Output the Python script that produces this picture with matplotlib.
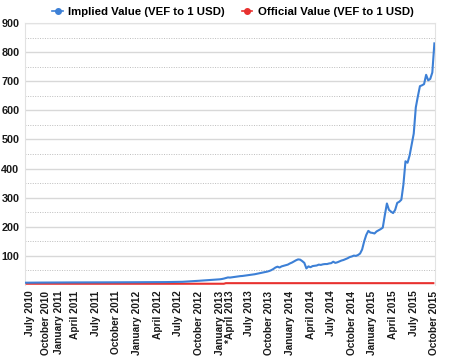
import matplotlib
matplotlib.use("Agg")
import matplotlib.pyplot as plt
from matplotlib.lines import Line2D
from matplotlib.ticker import MultipleLocator, FixedLocator, NullFormatter

plt.rcParams['font.family'] = ['Liberation Sans', 'DejaVu Sans']

# Quarter tick labels (first entry: lead-in samples before July 2010)
quarter_labels = ["", "July 2010", "October 2010", "January 2011", "April 2011",
                  "July 2011", "October 2011", "January 2012", "April 2012",
                  "July 2012", "October 2012", "January 2013", "*April 2013",
                  "July 2013", "October 2013", "January 2014", "April 2014",
                  "July 2014", "October 2014", "January 2015", "April 2015",
                  "July 2015", "October 2015"]

# Implied rate samples, grouped by the quarter they fall in
implied = [
    [7.9, 8.0],
    [8.0, 8.1, 8.1, 8.2, 8.2, 8.3, 8.3, 8.4],
    [8.4, 8.4, 8.5, 8.5, 8.5, 8.6],
    [8.6, 8.6, 8.7, 8.7, 8.7, 8.8, 8.8, 8.8],
    [8.8, 8.8, 8.9, 8.9, 8.9, 8.9, 9.0, 9.0, 9.0, 9.0],
    [9.0, 9.0, 9.1, 9.1, 9.1, 9.1, 9.2, 9.2, 9.2, 9.2],
    [9.2, 9.3, 9.3, 9.3, 9.4, 9.4, 9.4, 9.5, 9.5, 9.5],
    [9.5, 9.6, 9.6, 9.6, 9.7, 9.7, 9.7, 9.8, 9.8, 9.8],
    [9.8, 9.9, 9.9, 10.0, 10.0, 10.1, 10.2, 10.3, 10.4, 10.5],
    [10.5, 10.8, 11.0, 11.4, 11.8, 12.2, 12.6, 13.0, 13.5, 14.0],
    [14.5, 15.0, 15.5, 16.0, 16.5, 17.0, 17.5, 18.0, 18.5, 19.0],
    [19.5, 20.5, 22.0, 24.0, 26.0],
    [25.5, 26.5, 27.5, 28.5, 29.5, 30.5, 31.0, 32.0, 33.0],
    [34.0, 35.0, 36.0, 37.0, 38.5, 40.0, 41.5, 43.0, 44.5, 46.0],
    [48.0, 51.0, 55.0, 60.0, 63.0, 60.0, 64.0, 66.0, 68.0, 70.0],
    [74.0, 77.0, 81.0, 85.0, 88.0, 87.0, 82.0, 76.0, 57.0, 64.0],
    [61.0, 65.0, 66.0, 67.0, 70.0, 69.0, 71.0, 72.0, 72.0, 74.0],
    [75.0, 80.0, 76.0, 78.0, 81.0, 84.0, 86.0, 89.0, 92.0, 96.0],
    [98.0, 101.0, 100.0, 103.0, 108.0, 122.0, 150.0, 172.0, 186.0, 180.0],
    [179.0, 177.0, 184.0, 188.0, 192.0, 197.0, 240.0, 280.0, 258.0, 252.0],
    [247.0, 258.0, 282.0, 286.0, 293.0, 345.0, 425.0, 420.0, 445.0, 482.0],
    [520.0, 610.0, 648.0, 683.0, 686.0, 690.0, 722.0, 703.0, 708.0, 730.0],
    [830.0],
]

# Official rate samples, same grouping
official = [
    [4.3, 4.3],
    [4.3, 4.3, 4.3, 4.3, 4.3, 4.3, 4.3, 4.3],
    [4.3, 4.3, 4.3, 4.3, 4.3, 4.3],
    [4.3, 4.3, 4.3, 4.3, 4.3, 4.3, 4.3, 4.3],
    [4.3, 4.3, 4.3, 4.3, 4.3, 4.3, 4.3, 4.3, 4.3, 4.3],
    [4.3, 4.3, 4.3, 4.3, 4.3, 4.3, 4.3, 4.3, 4.3, 4.3],
    [4.3, 4.3, 4.3, 4.3, 4.3, 4.3, 4.3, 4.3, 4.3, 4.3],
    [4.3, 4.3, 4.3, 4.3, 4.3, 4.3, 4.3, 4.3, 4.3, 4.3],
    [4.3, 4.3, 4.3, 4.3, 4.3, 4.3, 4.3, 4.3, 4.3, 4.3],
    [4.3, 4.3, 4.3, 4.3, 4.3, 4.3, 4.3, 4.3, 4.3, 4.3],
    [4.3, 4.3, 4.3, 4.3, 4.3, 4.3, 4.3, 4.3, 4.3, 4.3],
    [4.3, 4.3, 4.3, 6.3, 6.3],
    [6.3, 6.3, 6.3, 6.3, 6.3, 6.3, 6.3, 6.3, 6.3],
    [6.3, 6.3, 6.3, 6.3, 6.3, 6.3, 6.3, 6.3, 6.3, 6.3],
    [6.3, 6.3, 6.3, 6.3, 6.3, 6.3, 6.3, 6.3, 6.3, 6.3],
    [6.3, 6.3, 6.3, 6.3, 6.3, 6.3, 6.3, 6.3, 6.3, 6.3],
    [6.3, 6.3, 6.3, 6.3, 6.3, 6.3, 6.3, 6.3, 6.3, 6.3],
    [6.3, 6.3, 6.3, 6.3, 6.3, 6.3, 6.3, 6.3, 6.3, 6.3],
    [6.3, 6.3, 6.3, 6.3, 6.3, 6.3, 6.3, 6.3, 6.3, 6.3],
    [6.3, 6.3, 6.3, 6.3, 6.3, 6.3, 6.3, 6.3, 6.3, 6.3],
    [6.3, 6.3, 6.3, 6.3, 6.3, 6.3, 6.3, 6.3, 6.3, 6.3],
    [6.3, 6.3, 6.3, 6.3, 6.3, 6.3, 6.3, 6.3, 6.3, 6.3],
    [6.3],
]

series_names = ["Implied Value (VEF to 1 USD)", "Official Value (VEF to 1 USD)"]
blue = "#3d80d6"
red = "#e8312f"

# flatten on a category (sample-index) axis
imp_flat, off_flat, tick_pos, tick_lab = [], [], [], []
for lab, iv, ov in zip(quarter_labels, implied, official):
    if lab:
        tick_pos.append(len(imp_flat))
        tick_lab.append(lab)
    imp_flat.extend(iv)
    off_flat.extend(ov)
xs = list(range(len(imp_flat)))

fig = plt.figure(figsize=(4.6, 3.56), dpi=100)
ax = fig.add_axes([25 / 460, 1 - 285 / 356, 410 / 460, 262 / 356])

ax.plot(xs, off_flat, color=red, lw=1.5, solid_capstyle='butt', zorder=3)
ax.plot(xs, imp_flat, color=blue, lw=1.5, solid_joinstyle='round', zorder=4)

ax.set_xlim(-0.3, len(xs) - 0.7)
ax.set_ylim(0, 900)

ax.yaxis.set_major_locator(FixedLocator([100, 200, 300, 400, 500, 600, 700, 800, 900]))
ax.yaxis.set_minor_locator(MultipleLocator(50))
ax.yaxis.set_minor_formatter(NullFormatter())
ax.grid(axis='y', which='major', color='#d8d8d8', lw=1.0, ls='-')
ax.grid(axis='y', which='minor', color='#bdbdbd', lw=0.7, ls=(0, (1, 1.5)))
ax.set_axisbelow(True)

ax.set_xticks(tick_pos)
ax.set_xticklabels(tick_lab, rotation=90, fontsize=7.3, fontweight='bold', color='#1a1a1a')
ax.tick_params(axis='x', length=0, pad=4)
ax.tick_params(axis='y', which='both', length=0, pad=4, labelsize=7.8, labelcolor='#1a1a1a')
for t in ax.get_yticklabels():
    t.set_fontweight('bold')

for s in ['left', 'right', 'top']:
    ax.spines[s].set_color('#e2e2e2')
    ax.spines[s].set_linewidth(0.8)
ax.spines['bottom'].set_visible(False)

handles = [Line2D([0], [0], color=blue, lw=1.2, marker='o', markersize=4),
           Line2D([0], [0], color=red, lw=1.2, marker='o', markersize=4)]
fig.legend(handles, series_names, loc='center', bbox_to_anchor=(0.507, 1 - 12 / 356),
           ncol=2, frameon=False, prop={'size': 8.2, 'weight': 'bold'},
           handlelength=0.9, handletextpad=0.5, columnspacing=1.5, borderaxespad=0)

fig.savefig("out.png", dpi=100, facecolor='white')
